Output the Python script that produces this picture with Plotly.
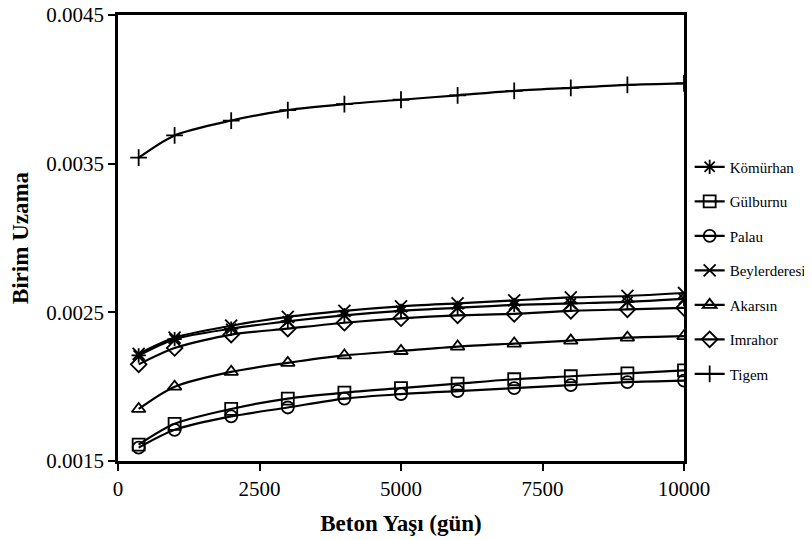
import plotly.graph_objects as go

days = [365, 1000, 2000, 3000, 4000, 5000, 6000, 7000, 8000, 9000, 10000]

komurhan = [0.00221, 0.00232, 0.00239, 0.00244, 0.00248, 0.00251, 0.00253, 0.00255, 0.00256, 0.00257, 0.00259]
gulburnu = [0.00161, 0.00175, 0.00185, 0.00192, 0.00196, 0.00199, 0.00202, 0.00205, 0.00207, 0.00209, 0.00211]
palau = [0.00159, 0.00171, 0.00180, 0.00186, 0.00192, 0.00195, 0.00197, 0.00199, 0.00201, 0.00203, 0.00204]
beylerderesi = [0.00222, 0.00233, 0.00241, 0.00247, 0.00251, 0.00254, 0.00256, 0.00258, 0.00260, 0.00261, 0.00263]
akarsin = [0.00185, 0.00200, 0.00210, 0.00216, 0.00221, 0.00224, 0.00227, 0.00229, 0.00231, 0.00233, 0.00234]
imrahor = [0.00215, 0.00226, 0.00235, 0.00239, 0.00243, 0.00246, 0.00248, 0.00249, 0.00251, 0.00252, 0.00253]
tigem = [0.00354, 0.00369, 0.00379, 0.00386, 0.00390, 0.00393, 0.00396, 0.00399, 0.00401, 0.00403, 0.00404]

x_ticks = [0, 2500, 5000, 7500, 10000]
x_ticktext = ["0", "2500", "5000", "7500", "10000"]
y_ticks = [0.0015, 0.0025, 0.0035, 0.0045]
y_ticktext = ["0.0015", "0.0025", "0.0035", "0.0045"]

series = [
    ("Kömürhan", komurhan, "asterisk-open", 12),
    ("Gülburnu", gulburnu, "square-open", 12),
    ("Palau", palau, "circle-open", 12),
    ("Beylerderesi", beylerderesi, "x-thin-open", 12),
    ("Akarsın", akarsin, "triangle-up-open", 12),
    ("Imrahor", imrahor, "diamond-open", 12),
    ("Tigem", tigem, "cross-thin-open", 12),
]

fig = go.Figure()
for name, vals, sym, sz in series:
    fig.add_trace(go.Scatter(
        x=days, y=vals, name=name, mode="lines+markers",
        line=dict(color="black", width=2.2, shape="spline", smoothing=0.8),
        marker=dict(symbol=sym, size=sz, color="black", line=dict(color="black", width=1.8)),
        legendgroup=name,
    ))

font_family = "Liberation Serif, Times New Roman, serif"

fig.update_layout(
    width=812, height=540,
    margin=dict(l=110, r=136, t=7, b=87),
    paper_bgcolor="white", plot_bgcolor="white",
    font=dict(family=font_family, color="black", size=21),
    legend=dict(
        x=1.01, y=0.696, xanchor="left", yanchor="top",
        font=dict(family=font_family, size=15, color="black"),
        tracegroupgap=12, itemwidth=30, bgcolor="rgba(0,0,0,0)",
    ),
    showlegend=True,
)
fig.update_xaxes(
    range=[0, 10000], tickvals=x_ticks, ticktext=x_ticktext,
    showgrid=False, zeroline=False, automargin=False,
    showline=True, linecolor="black", linewidth=2.5, mirror=True,
    ticks="outside", ticklen=7, tickwidth=2, tickcolor="black",
    tickfont=dict(size=21), ticklabeloverflow="allow",
    title=dict(text="<b>Beton Yaşı (gün)</b>", font=dict(size=23)),
)
fig.update_yaxes(
    range=[0.0015, 0.0045], tickvals=y_ticks, ticktext=y_ticktext,
    showgrid=False, zeroline=False, automargin=False,
    showline=True, linecolor="black", linewidth=2.5, mirror=True,
    ticks="outside", ticklen=7, tickwidth=2, tickcolor="black",
    tickfont=dict(size=21), ticklabeloverflow="allow",
    title=dict(text="<b>Birim Uzama</b>", font=dict(size=23)),
)

fig.write_html("out.html")
